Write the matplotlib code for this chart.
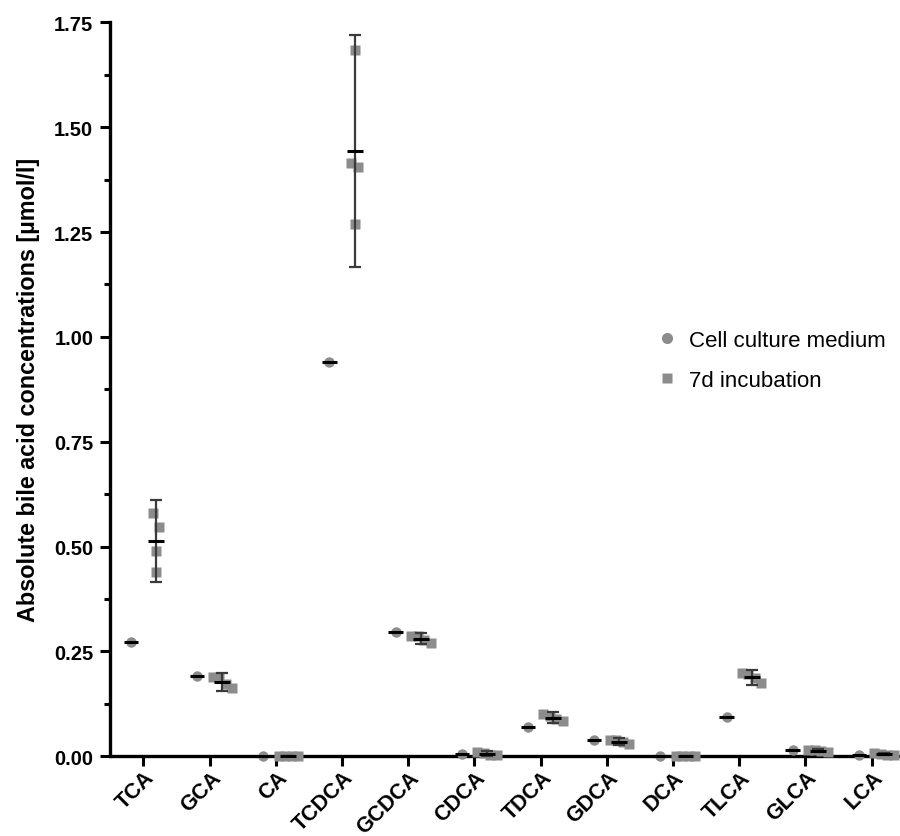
import numpy as np
import matplotlib
matplotlib.use("Agg")
import matplotlib.pyplot as plt
from matplotlib.lines import Line2D
import matplotlib.transforms as mtransforms

plt.rcParams['font.family'] = ['Liberation Sans', 'DejaVu Sans']

categories = ["TCA", "GCA", "CA", "TCDCA", "GCDCA", "CDCA", "TDCA",
              "GDCA", "DCA", "TLCA", "GLCA", "LCA"]
medium = [0.272, 0.191, 0.0, 0.940, 0.297, 0.005, 0.071, 0.040, 0.0, 0.093, 0.015, 0.002]
incub_TCA = [0.579, 0.546, 0.490, 0.439]
incub_GCA = [0.190, 0.188, 0.172, 0.162]
incub_CA = [0.0, 0.0, 0.0, 0.0]
incub_TCDCA = [1.685, 1.414, 1.406, 1.269]
incub_GCDCA = [0.288, 0.286, 0.278, 0.270]
incub_CDCA = [0.010, 0.008, 0.004, 0.002]
incub_TDCA = [0.100, 0.097, 0.090, 0.083]
incub_GDCA = [0.040, 0.038, 0.033, 0.029]
incub_DCA = [0.0, 0.0, 0.0, 0.0]
incub_TLCA = [0.198, 0.196, 0.186, 0.174]
incub_GLCA = [0.016, 0.014, 0.013, 0.011]
incub_LCA = [0.007, 0.006, 0.004, 0.003]
incubation = [incub_TCA, incub_GCA, incub_CA, incub_TCDCA, incub_GCDCA, incub_CDCA,
              incub_TDCA, incub_GDCA, incub_DCA, incub_TLCA, incub_GLCA, incub_LCA]
T_CRIT = 3.182  # 95% CI, n=4

GREY = "#8c8c8c"
fig = plt.figure(figsize=(9, 8.37), dpi=100)
ax = fig.add_axes([110/900, (837-757.3)/837, 1-110/900, (757.3-23.3)/837])
ax.set_xlim(-0.506, 11.43)
ax.set_ylim(0, 1.75)

x = np.arange(len(categories))
off = 0.19

# pixel conversion helpers for swarm layout
px_per_x = ax.transData.transform((1, 0))[0] - ax.transData.transform((0, 0))[0]
px_per_y = ax.transData.transform((0, 1))[1] - ax.transData.transform((0, 0))[1]

def swarm_offsets(vals, thresh_px=15, step_px=6.5):
    vals = np.asarray(vals)
    order = np.argsort(-vals)
    offs = np.zeros(len(vals))
    rows = []
    cur = [order[0]]
    for idx in order[1:]:
        if abs(vals[cur[-1]] - vals[idx]) * px_per_y < thresh_px:
            cur.append(idx)
        else:
            rows.append(cur)
            cur = [idx]
    rows.append(cur)
    for r in rows:
        n = len(r)
        for k, idx in enumerate(r):
            offs[idx] = (k - (n - 1) / 2) * step_px / px_per_x
    return offs

# cell culture medium
ax.plot(x - off, medium, 'o', color=GREY, ms=7.5, mec='none', clip_on=False, zorder=3)
ax.hlines(medium, x - off - 0.11, x - off + 0.11, color='black', lw=2.2, zorder=4, clip_on=False)

# 7d incubation
for i, vals in enumerate(incubation):
    vals = np.asarray(vals)
    xs = x[i] + off + swarm_offsets(vals)
    ax.plot(xs, vals, 's', color=GREY, ms=7, mec='none', clip_on=False, zorder=3)
    m = vals.mean()
    ci = T_CRIT * vals.std(ddof=1) / np.sqrt(len(vals))
    ax.errorbar([x[i] + off], [m], yerr=[ci], fmt='none', ecolor='#3a3a3a',
                elinewidth=1.6, capsize=4, capthick=1.6, zorder=4, clip_on=False)
    ax.hlines([m], x[i] + off - 0.12, x[i] + off + 0.12, color='black', lw=2.2, zorder=5, clip_on=False)

# axes styling
for s in ['top', 'right']:
    ax.spines[s].set_visible(False)
for s in ['left', 'bottom']:
    ax.spines[s].set_linewidth(2.4)
ax.spines['bottom'].set_capstyle('butt')

ax.set_yticks(np.arange(0, 1.76, 0.25))
ax.set_yticks(np.arange(0.125, 1.75, 0.25), minor=True)
ax.set_yticklabels([f"{v:.2f}" for v in np.arange(0, 1.76, 0.25)],
                   fontsize=14.5, fontweight='bold')
ax.tick_params(axis='y', which='major', length=7, width=2.2, pad=5)
ax.tick_params(axis='y', which='minor', length=4, width=2.2)

ax.set_xticks(x)
ax.set_xticklabels(categories, rotation=45, ha='right', rotation_mode='anchor',
                   fontsize=15.5, fontweight='bold')
ax.tick_params(axis='x', which='major', length=7, width=2.2, pad=0.5)
shift = mtransforms.ScaledTranslation(0.5/100, 0, fig.dpi_scale_trans)
for lab in ax.get_xticklabels():
    lab.set_transform(lab.get_transform() + shift)

ax.set_ylabel("Absolute bile acid concentrations [µmol/l]", fontsize=16.8,
              fontweight='bold', labelpad=10)

handles = [Line2D([], [], ls='none', marker='o', color=GREY, ms=8, mec='none'),
           Line2D([], [], ls='none', marker='s', color=GREY, ms=7.5, mec='none')]
ax.legend(handles, ["Cell culture medium", "7d incubation"], loc='upper left',
          bbox_to_anchor=(658/900, 1 - 331/837), bbox_transform=fig.transFigure,
          frameon=False, fontsize=16, handlelength=0.8, handletextpad=0.6,
          labelspacing=0.85, borderaxespad=0, borderpad=0)

fig.savefig("out.png", dpi=100)
